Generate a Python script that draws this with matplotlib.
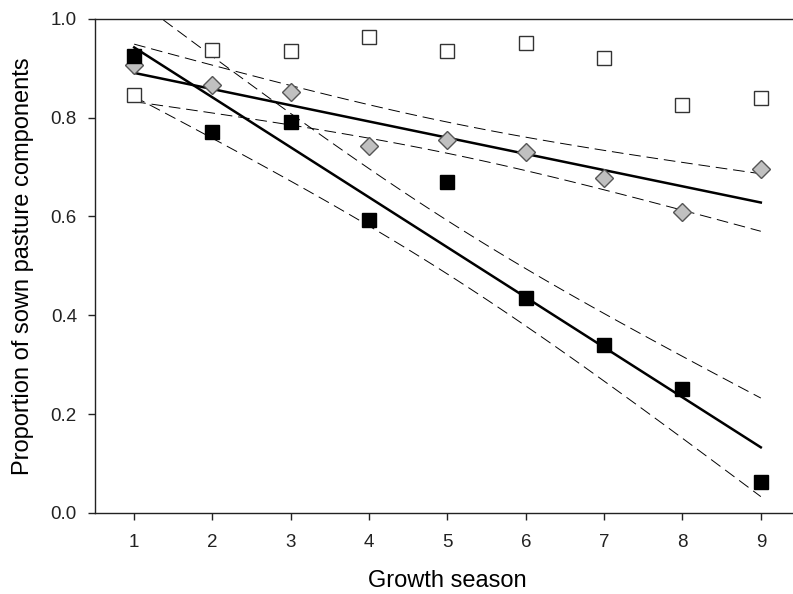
import numpy as np
from matplotlib import pyplot as plt

plt.rcParams['font.family'] = ['Liberation Sans', 'DejaVu Sans']

season = np.array([1, 2, 3, 4, 5, 6, 7, 8, 9])
open_sq = [0.845, 0.937, 0.935, 0.963, 0.935, 0.950, 0.920, 0.826, 0.840]
grey_dia = [0.907, 0.865, 0.852, 0.742, 0.754, 0.730, 0.677, 0.610, 0.697]
black_sq = [0.925, 0.770, 0.792, 0.592, 0.670, 0.435, 0.340, 0.250, 0.063]

T975 = 2.3646  # t quantile, 7 df


def fit_band(x, y):
    x = np.asarray(x, float)
    y = np.asarray(y, float)
    b, a = np.polyfit(x, y, 1)
    res = y - (a + b * x)
    s = np.sqrt(np.sum(res ** 2) / (len(x) - 2))
    xs = np.linspace(x.min(), x.max(), 100)
    fit = a + b * xs
    se = s * np.sqrt(1 / len(x) + (xs - x.mean()) ** 2 / np.sum((x - x.mean()) ** 2))
    return xs, fit, fit - T975 * se, fit + T975 * se


fig = plt.figure(figsize=(7.93, 5.94), dpi=100)
ax = fig.add_axes([0.1198, 0.1364, 0.889, 0.832])

for y in (grey_dia, black_sq):
    xs, fit, lo, hi = fit_band(season, y)
    ax.plot(xs, fit, color='black', lw=1.8, zorder=2)
    ax.plot(xs, lo, color='black', lw=0.7, dashes=(12, 6), zorder=2)
    ax.plot(xs, hi, color='black', lw=0.7, dashes=(12, 6), zorder=2)

ax.plot(season, open_sq, 's', ms=10, mfc='white', mec='#333333', mew=1.0, zorder=3)
ax.plot(season, grey_dia, 'D', ms=9.5, mfc='#c0c0c0', mec='#555555', mew=1.0, zorder=3)
ax.plot(season, black_sq, 's', ms=10.5, mfc='black', mec='black', mew=1.0, zorder=3)

ax.set_xlim(0.5, 9.5)
ax.set_ylim(0, 1.0)
ax.set_xticks(season)
ax.set_yticks(np.arange(0, 1.01, 0.2))
ax.set_yticklabels(['%.1f' % v for v in np.arange(0, 1.01, 0.2)])
ax.tick_params(direction='out', length=5, width=1, labelsize=13.5, colors='#222222')
ax.tick_params(axis='x', pad=10)
ax.tick_params(axis='y', pad=8)
for sp in ax.spines.values():
    sp.set_linewidth(1.0)
    sp.set_color('#222222')

ax.set_xlabel('Growth season', fontsize=17, labelpad=14)
ax.set_ylabel('Proportion of sown pasture components', fontsize=17, labelpad=12)

plt.savefig('out.png', dpi=100)
